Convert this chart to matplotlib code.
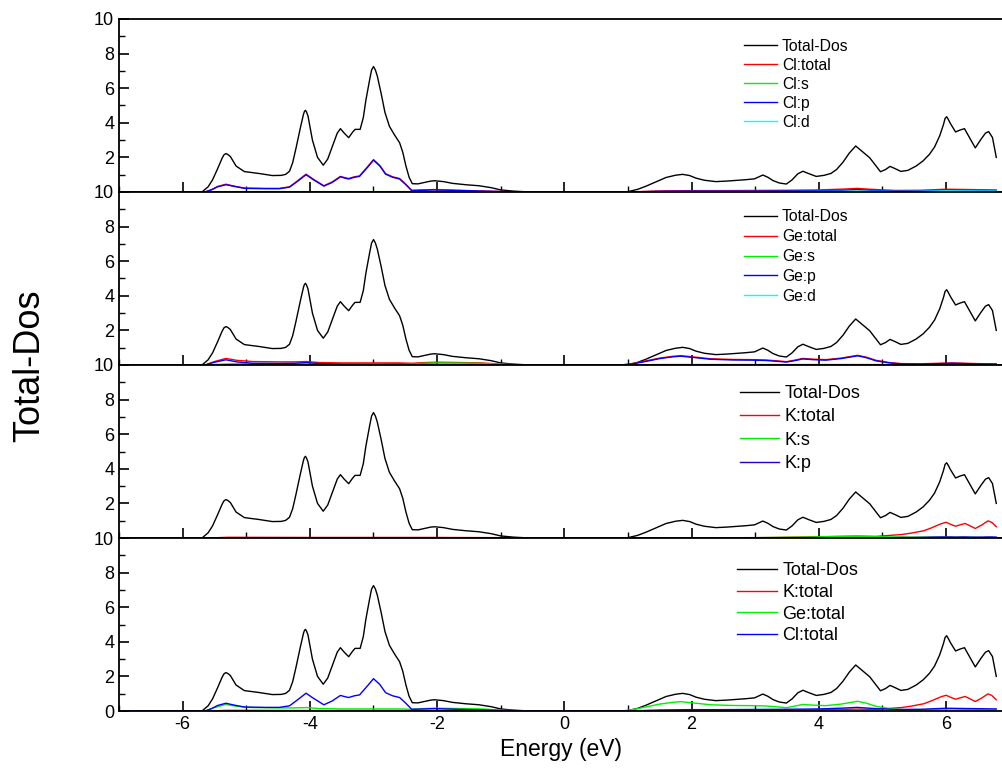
import matplotlib
matplotlib.use("Agg")
import matplotlib.pyplot as plt
from matplotlib.ticker import MultipleLocator, FuncFormatter

plt.rcParams['font.family'] = ['Liberation Sans', 'DejaVu Sans']
plt.rcParams['axes.unicode_minus'] = False

# total density of states (same curve in every panel)
e_tot = [-7.0, -5.75, -5.69, -5.6, -5.53, -5.45, -5.38, -5.35, -5.32, -5.29, -5.25, -5.16, -5.03, -4.9, -4.8,
         -4.59, -4.45, -4.38, -4.32, -4.27, -4.22, -4.15, -4.1, -4.085, -4.07, -4.055, -4.03, -3.96, -3.88, -3.79,
         -3.72, -3.64, -3.57, -3.52, -3.46, -3.39, -3.33, -3.29, -3.21, -3.16, -3.12, -3.06, -3.03, -3.0, -2.97,
         -2.94, -2.88, -2.82, -2.75, -2.67, -2.59, -2.54, -2.49, -2.44, -2.39, -2.3, -2.2, -2.1, -2.04, -1.9,
         -1.76, -1.55, -1.34, -1.15, -1.0, -0.8, -0.6, -0.4, 0.9, 1.0, 1.15, 1.28, 1.45, 1.6, 1.75, 1.86, 1.97,
         2.07, 2.2, 2.38, 2.55, 2.7, 2.85, 2.99, 3.06, 3.12, 3.2, 3.28, 3.38, 3.49, 3.58, 3.67, 3.75, 3.85, 3.96,
         4.08, 4.19, 4.28, 4.38, 4.48, 4.58, 4.68, 4.8, 4.9, 4.97, 5.05, 5.12, 5.2, 5.29, 5.4, 5.53, 5.64, 5.74,
         5.82, 5.9, 5.96, 5.985, 6.01, 6.035, 6.07, 6.15, 6.22, 6.29, 6.36, 6.46, 6.55, 6.62, 6.67, 6.73, 6.79]
dos_tot = [0, 0, 0.02, 0.3, 0.7, 1.35, 1.95, 2.15, 2.22, 2.17, 2.05, 1.5, 1.18, 1.12, 1.07,
           0.95, 0.96, 1.02, 1.2, 1.7, 2.5, 3.7, 4.5, 4.66, 4.72, 4.64, 4.4, 3.0, 2.0, 1.55,
           1.9, 2.7, 3.4, 3.66, 3.4, 3.14, 3.45, 3.62, 3.62, 4.3, 5.3, 6.5, 7.05, 7.25, 7.05,
           6.7, 5.7, 4.6, 3.8, 3.3, 2.85, 2.3, 1.5, 0.85, 0.48, 0.47, 0.55, 0.63, 0.65, 0.6,
           0.5, 0.42, 0.36, 0.25, 0.12, 0.05, 0.01, 0, 0, 0.02, 0.15, 0.33, 0.6, 0.84, 0.97, 1.02, 0.95,
           0.8, 0.68, 0.6, 0.63, 0.67, 0.71, 0.76, 0.88, 0.98, 0.85, 0.66, 0.52, 0.46, 0.7, 1.05, 1.2, 1.05, 0.9,
           0.96, 1.07, 1.3, 1.72, 2.25, 2.66, 2.35, 1.98, 1.5, 1.17, 1.3, 1.48, 1.35, 1.19, 1.25, 1.5, 1.8, 2.18,
           2.6, 3.24, 3.9, 4.25, 4.35, 4.2, 3.95, 3.47, 3.58, 3.66, 3.2, 2.55, 3.05, 3.4, 3.49, 3.15, 2.0]

# Cl projections
e_cl = [-7.0, -5.65, -5.55, -5.45, -5.32, -5.2, -5.03, -4.7, -4.48, -4.32, -4.2, -4.06, -3.95, -3.78, -3.65,
        -3.52, -3.45, -3.39, -3.3, -3.22, -3.1, -3.0, -2.9, -2.81, -2.7, -2.59, -2.5, -2.4, -2.2, -2.05, -1.7,
        -1.3, -0.9, -0.5, 1.0, 1.5, 2.0, 2.5, 3.0, 3.5, 4.0, 4.4, 4.6, 4.8, 5.2, 5.6, 6.0, 6.4, 6.79]
cl_total = [0, 0, 0.13, 0.32, 0.45, 0.35, 0.23, 0.21, 0.21, 0.3, 0.63, 1.03, 0.75, 0.36, 0.58,
            0.9, 0.83, 0.78, 0.88, 0.93, 1.43, 1.87, 1.53, 1.06, 0.88, 0.78, 0.48, 0.1, 0.12, 0.14, 0.1,
            0.06, 0.02, 0, 0, 0.06, 0.08, 0.08, 0.09, 0.1, 0.12, 0.17, 0.21, 0.16, 0.09, 0.1, 0.16, 0.14, 0.12]
cl_s = [0, 0, 0.01, 0.02, 0.02, 0.02, 0.02, 0.02, 0.02, 0.02, 0.02, 0.02, 0.02, 0.02, 0.02,
        0.02, 0.02, 0.02, 0.02, 0.02, 0.02, 0.02, 0.02, 0.02, 0.02, 0.02, 0.02, 0.01, 0.01, 0.01, 0.01,
        0.01, 0, 0, 0, 0.01, 0.02, 0.02, 0.02, 0.02, 0.03, 0.04, 0.04, 0.03, 0.02, 0.02, 0.03, 0.03, 0.02]
cl_p = [0, 0, 0.12, 0.3, 0.42, 0.33, 0.21, 0.19, 0.19, 0.28, 0.6, 1.0, 0.72, 0.34, 0.55,
        0.88, 0.8, 0.75, 0.85, 0.9, 1.4, 1.84, 1.5, 1.03, 0.85, 0.75, 0.45, 0.08, 0.1, 0.12, 0.09,
        0.05, 0.02, 0, 0, 0.04, 0.05, 0.05, 0.05, 0.06, 0.07, 0.1, 0.14, 0.1, 0.05, 0.06, 0.1, 0.08, 0.06]
cl_d = [0, 0, 0, 0.01, 0.01, 0.01, 0.01, 0.01, 0.01, 0.01, 0.01, 0.01, 0.01, 0.01, 0.01,
        0.01, 0.01, 0.01, 0.01, 0.01, 0.01, 0.01, 0.01, 0.01, 0.01, 0.01, 0.01, 0.01, 0.01, 0.01, 0.01,
        0, 0, 0, 0, 0.01, 0.02, 0.02, 0.02, 0.02, 0.03, 0.04, 0.05, 0.04, 0.03, 0.04, 0.07, 0.06, 0.05]

# Ge projections
e_ge = [-7.0, -5.65, -5.5, -5.32, -5.15, -4.9, -4.5, -4.25, -4.05, -3.85, -3.5, -3.0, -2.6, -2.4, -2.2,
        -2.0, -1.6, -1.3, -1.0, -0.6, 0.9, 1.1, 1.3, 1.5, 1.7, 1.83, 2.07, 2.3, 2.65, 2.95, 3.17, 3.35,
        3.49, 3.62, 3.75, 3.9, 4.11, 4.35, 4.61, 4.75, 4.9, 5.11, 5.3, 5.6, 5.9, 6.1, 6.3, 6.5, 6.79]
ge_total = [0, 0, 0.2, 0.38, 0.27, 0.2, 0.18, 0.18, 0.2, 0.14, 0.12, 0.12, 0.12, 0.1, 0.14,
            0.16, 0.14, 0.12, 0.05, 0, 0, 0.1, 0.25, 0.4, 0.5, 0.54, 0.45, 0.36, 0.32, 0.31, 0.29, 0.24,
            0.19, 0.28, 0.38, 0.34, 0.31, 0.4, 0.56, 0.45, 0.27, 0.14, 0.08, 0.07, 0.1, 0.12, 0.1, 0.08, 0.06]
ge_s = [0, 0, 0.03, 0.06, 0.07, 0.08, 0.08, 0.07, 0.05, 0.05, 0.06, 0.07, 0.06, 0.06, 0.1,
        0.12, 0.11, 0.09, 0.04, 0, 0, 0.02, 0.02, 0.03, 0.03, 0.03, 0.03, 0.03, 0.03, 0.03, 0.03, 0.03,
        0.02, 0.03, 0.03, 0.03, 0.03, 0.03, 0.03, 0.03, 0.03, 0.02, 0.02, 0.02, 0.02, 0.02, 0.02, 0.02, 0.01]
ge_p = [0, 0, 0.16, 0.3, 0.18, 0.1, 0.09, 0.1, 0.14, 0.08, 0.05, 0.04, 0.05, 0.03, 0.03,
        0.03, 0.02, 0.02, 0.01, 0, 0, 0.08, 0.22, 0.37, 0.47, 0.51, 0.42, 0.33, 0.29, 0.28, 0.26, 0.21,
        0.17, 0.25, 0.35, 0.31, 0.28, 0.37, 0.53, 0.42, 0.24, 0.12, 0.06, 0.05, 0.08, 0.1, 0.08, 0.06, 0.05]
ge_d = [0, 0, 0.01, 0.01, 0.01, 0.01, 0.01, 0.01, 0.01, 0.01, 0.01, 0.01, 0.01, 0.01, 0.01,
        0.01, 0.01, 0.01, 0, 0, 0, 0, 0.01, 0.01, 0.01, 0.01, 0.01, 0.01, 0.01, 0.01, 0.01, 0.01,
        0.01, 0.01, 0.01, 0.01, 0.01, 0.01, 0.01, 0.01, 0.01, 0.01, 0.01, 0.01, 0.01, 0.01, 0.01, 0.01, 0.01]

# K projections
e_k = [-7.0, -5.6, -5.3, -4.0, -3.0, -2.0, -1.0, -0.5, 1.0, 2.0, 3.0, 3.3, 3.8, 4.3, 4.6, 4.9, 5.0,
       5.15, 5.3, 5.45, 5.65, 5.76, 5.92, 6.0, 6.08, 6.15, 6.24, 6.3, 6.38, 6.46, 6.56, 6.66, 6.72, 6.79]
k_total = [0, 0, 0.04, 0.03, 0.03, 0.03, 0.02, 0, 0, 0.01, 0.02, 0.03, 0.06, 0.09, 0.11, 0.09, 0.12,
           0.16, 0.2, 0.28, 0.42, 0.57, 0.82, 0.91, 0.78, 0.68, 0.78, 0.84, 0.7, 0.55, 0.75, 0.99, 0.9, 0.65]
k_s = [0, 0, 0.01, 0.01, 0.01, 0.01, 0.01, 0, 0, 0.01, 0.02, 0.03, 0.05, 0.09, 0.1, 0.08, 0.07,
       0.06, 0.06, 0.05, 0.05, 0.05, 0.05, 0.05, 0.05, 0.05, 0.05, 0.05, 0.05, 0.04, 0.04, 0.04, 0.04, 0.03]
k_p = [0, 0, 0.02, 0.02, 0.02, 0.02, 0.01, 0, 0, 0, 0, 0, 0.01, 0.01, 0.01, 0.01, 0.02,
       0.02, 0.03, 0.03, 0.04, 0.05, 0.06, 0.06, 0.06, 0.05, 0.06, 0.06, 0.05, 0.05, 0.05, 0.06, 0.06, 0.05]

panels = [
    [(e_cl, cl_total, 'Cl:total', 'red'), (e_cl, cl_s, 'Cl:s', '#00ee00'),
     (e_cl, cl_p, 'Cl:p', 'blue'), (e_cl, cl_d, 'Cl:d', 'cyan')],
    [(e_ge, ge_total, 'Ge:total', 'red'), (e_ge, ge_s, 'Ge:s', '#00ee00'),
     (e_ge, ge_p, 'Ge:p', 'blue'), (e_ge, ge_d, 'Ge:d', 'cyan')],
    [(e_k, k_total, 'K:total', 'red'), (e_k, k_s, 'K:s', '#00ee00'),
     (e_k, k_p, 'K:p', '#2200cc')],
    [(e_k, k_total, 'K:total', 'red'), (e_ge, ge_total, 'Ge:total', '#00ee00'),
     (e_cl, cl_total, 'Cl:total', 'blue')],
]
leg_font = [11.3, 11.3, 13, 13]
leg_pos = [(0.708, 0.885), (0.708, 0.90), (0.703, 0.885), (0.700, 0.86)]
leg_space = [0.25, 0.31, 0.35, 0.26]
leg_hlen = [2.1, 2.1, 2.2, 2.2]

# the "0" of an upper panel sits under the "10" of the panel below it
hide_zero = FuncFormatter(lambda v, pos: '' if v == 0 else '%d' % v)

fig, axes = plt.subplots(4, 1, sharex=True, figsize=(10.02, 7.78), dpi=100)
fig.subplots_adjust(left=0.1188, right=1.0, top=0.9756, bottom=0.0861, hspace=0)

for i, ax in enumerate(axes):
    ax.plot(e_tot, dos_tot, color='black', lw=1.0, label='Total-Dos')
    for e, v, lab, col in panels[i]:
        ax.plot(e, v, color=col, lw=1.0, label=lab)
    ax.set_xlim(-7, 6.88)
    ax.set_ylim(0, 10)
    ax.xaxis.set_major_locator(MultipleLocator(2))
    ax.xaxis.set_minor_locator(MultipleLocator(1))
    ax.yaxis.set_major_locator(MultipleLocator(2))
    ax.yaxis.set_minor_locator(MultipleLocator(1))
    if i < 3:
        ax.yaxis.set_major_formatter(hide_zero)
    ax.tick_params(which='major', direction='in', length=7, width=1.2, labelsize=13)
    ax.tick_params(which='minor', direction='in', length=4, width=1.0)
    ax.tick_params(axis='x', which='both', top=False)
    ax.tick_params(axis='y', which='both', right=False)
    ax.spines['right'].set_visible(False)
    for s in ['left', 'bottom', 'top']:
        ax.spines[s].set_linewidth(1.3)
    ax.legend(loc='upper left', bbox_to_anchor=leg_pos[i], frameon=False, fontsize=leg_font[i],
              handlelength=leg_hlen[i], handletextpad=0.3, labelspacing=leg_space[i], borderpad=0,
              borderaxespad=0)

axes[-1].set_xlabel('Energy (eV)', fontsize=16.5, labelpad=4)
fig.text(0.03, 0.53, 'Total-Dos', rotation=90, fontsize=26, ha='center', va='center')

fig.savefig('out.png', dpi=100)
